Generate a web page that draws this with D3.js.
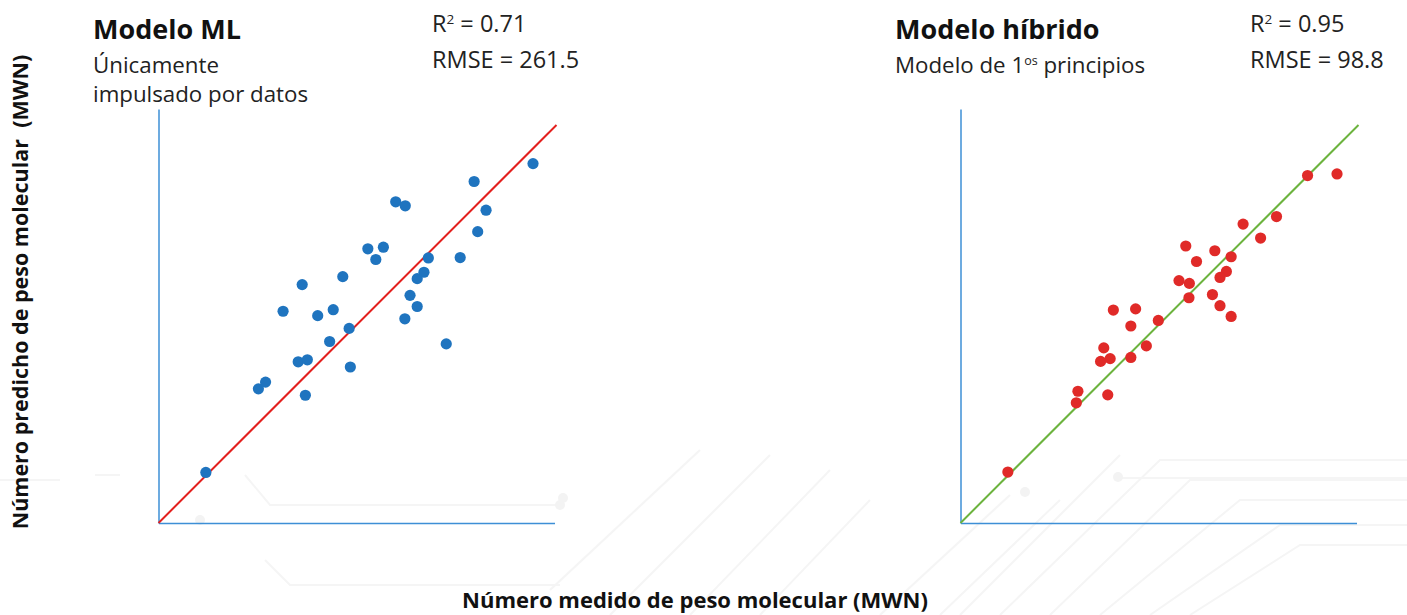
<!DOCTYPE html>
<html><head><meta charset="utf-8">
<script src="https://cdn.jsdelivr.net/npm/d3@7"></script>
<style>
html,body{margin:0;padding:0;background:#fff;}
svg{display:block;font-family:"Open Sans","Noto Sans",sans-serif;}
</style></head>
<body><svg id="chart" width="1407" height="615"></svg>
<script>
// ---- Data (measured vs predicted MWN, arbitrary units 0..1000) ----
const mlMeasured  = [119,251,269,351,374,369,313,361,400,439,430,479,482,463,526,565,546,596,620,678,667,650,632,650,619,723,758,802,823,793,941];
const mlPredicted = [127,337,354,405,410,321,532,599,521,536,456,489,392,619,689,693,662,807,797,666,630,614,572,544,513,450,667,732,786,858,903];
const hyMeasured  = [119,291,295,370,352,376,360,428,467,428,384,440,497,549,575,574,566,593,639,680,668,652,633,652,680,710,754,794,872,946];
const hyPredicted = [128,302,331,322,406,413,440,416,445,495,535,538,509,609,602,566,696,657,684,669,632,617,574,546,519,751,716,770,873,877];
const identityLine = [0, 1000];
const axisMaxX = 995, axisMaxY = 1040;
const panelTitles = ["Modelo ML", "Modelo híbrido"];
const r2Values = ["0.71", "0.95"];
const rmseValues = ["261.5", "98.8"];
const xAxisTitle = "Número medido de peso molecular (MWN)";
const yAxisTitle = "Número predicho de peso molecular  (MWN)";

const svg = d3.select("#chart");

// faint decorative background circuit lines
const bg = svg.append("g").attr("stroke", "#f5f5f5").attr("fill", "none").attr("stroke-width", 2);
const bgPaths = [
  "M0,480 L60,480","M95,475 L120,475",
  "M245,475 L270,505 L560,505","M265,560 L290,585 L560,585",
  "M550,590 L700,450","M610,615 L770,455","M690,615 L830,470","M760,615 L870,500",
  "M960,615 L1120,455","M1000,615 L1160,460 L1407,460","M1050,615 L1190,480 L1407,480",
  "M1100,615 L1240,500 L1407,500","M1150,615 L1280,525 L1407,525","M1190,615 L1300,545 L1407,545",
  "M1120,478 L1407,478","M940,615 L1060,500","M880,615 L1010,495"
];
bgPaths.forEach(p => bg.append("path").attr("d", p));
[[563,498],[1118,477],[1025,492],[560,505],[200,520]].forEach(c =>
  svg.append("circle").attr("cx", c[0]).attr("cy", c[1]).attr("r", 5).attr("fill", "#f3f3f3"));

function panel(ox, oy, measured, predicted, dotColor, lineColor) {
  const x = d3.scaleLinear().domain([0, 1000]).range([ox, ox + 398]);
  const y = d3.scaleLinear().domain([0, 1000]).range([oy, oy - 398]);
  const g = svg.append("g");
  g.append("g").attr("transform", `translate(0,${oy})`)
    .call(d3.axisBottom(d3.scaleLinear().domain([0, axisMaxX]).range([x(0), x(axisMaxX)])).ticks(0).tickSizeOuter(0));
  g.append("g").attr("transform", `translate(${ox},0)`)
    .call(d3.axisLeft(d3.scaleLinear().domain([0, axisMaxY]).range([y(0), y(axisMaxY)])).ticks(0).tickSizeOuter(0));
  g.selectAll(".domain").attr("stroke", "#3d8fd6").attr("stroke-width", 1.5);
  g.append("line")
    .attr("x1", x(identityLine[0])).attr("y1", y(identityLine[0]))
    .attr("x2", x(identityLine[1])).attr("y2", y(identityLine[1]))
    .attr("stroke", lineColor).attr("stroke-width", 2);
  g.selectAll("circle.pt").data(measured.map((m, i) => [m, predicted[i]]))
    .join("circle").attr("class", "pt")
    .attr("cx", d => x(d[0])).attr("cy", d => y(d[1])).attr("r", 5.6)
    .attr("fill", dotColor);
}
panel(158.5, 523, mlMeasured, mlPredicted, "#1f74bf", "#e3201e");
panel(960.5, 523, hyMeasured, hyPredicted, "#e02a28", "#6cb33e");

// Titles
function title(xp, t1, stat, xs, sub) {
  svg.append("text").attr("x", xp).attr("y", 39).attr("font-size", 27).attr("font-weight", 700)
    .attr("fill", "#111").text(t1);
  const r = svg.append("text").attr("x", xs).attr("y", 32).attr("font-size", 23.5).attr("fill", "#222");
  r.append("tspan").text("R");
  r.append("tspan").attr("font-size", 13.5).attr("dy", -8).text("2");
  r.append("tspan").attr("dy", 8).text(" = " + stat[0]);
  svg.append("text").attr("x", xs).attr("y", 68).attr("font-size", 23.5).attr("fill", "#222").text("RMSE = " + stat[1]);
  sub(xp);
}
title(93, panelTitles[0], [r2Values[0], rmseValues[0]], 432, xp => {
  svg.append("text").attr("x", xp).attr("y", 73).attr("font-size", 22.3).attr("fill", "#222").text("Únicamente");
  svg.append("text").attr("x", xp).attr("y", 102).attr("font-size", 22.3).attr("fill", "#222").text("impulsado por datos");
});
title(895, panelTitles[1], [r2Values[1], rmseValues[1]], 1250, xp => {
  const t = svg.append("text").attr("x", xp).attr("y", 73).attr("font-size", 22.3).attr("fill", "#222");
  t.append("tspan").text("Modelo de 1");
  t.append("tspan").attr("font-size", 12.5).attr("dy", -8).text("os");
  t.append("tspan").attr("dy", 8).text(" principios");
});

// Axis titles
svg.append("text").attr("x", 695).attr("y", 608).attr("text-anchor", "middle")
  .attr("font-size", 22).attr("font-weight", 700).attr("fill", "#111").text(xAxisTitle);
svg.append("text").attr("transform", "translate(28,292) rotate(-90)").attr("text-anchor", "middle")
  .attr("font-size", 21.5).attr("font-weight", 700).attr("fill", "#111")
  .style("white-space", "pre").text(yAxisTitle);
</script></body></html>
